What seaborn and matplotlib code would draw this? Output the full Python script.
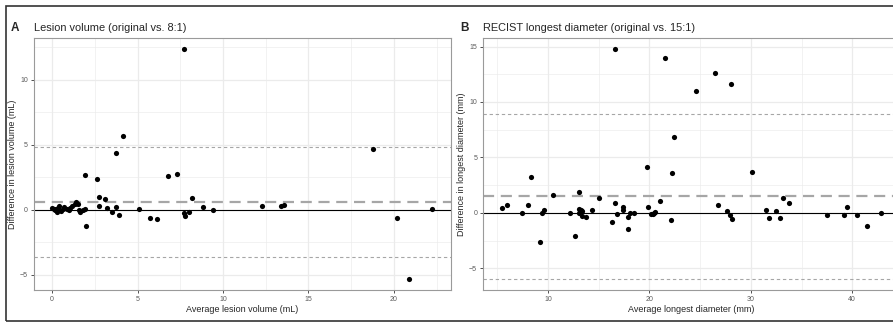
import numpy as np
import pandas as pd
import matplotlib
matplotlib.use('Agg')
import matplotlib.pyplot as plt
from matplotlib.patches import Rectangle
from matplotlib.ticker import MultipleLocator
import seaborn as sns

# ─────────────────────────────────────────────
# DATA
# ─────────────────────────────────────────────

# Panel A: lesion volume, original vs. 8:1
vol_avg = [7.74, 4.14, 3.74, 1.95, 2.65, 6.79, 7.33, 18.77, 2.72, 3.11,
           8.21, 1.38, 1.34, 1.54, 2.74, 3.19, 3.74, 3.48, 3.91, 5.06,
           5.72, 6.11, 7.72, 7.76, 8.02, 8.81, 9.40, 12.26, 13.39, 13.56,
           20.18, 20.88, 22.22, 2.00, 1.95, 1.79, 1.65, 1.56,
           0.10, 0.18, 0.29, 0.37, 0.43, 0.53, 0.62, 0.72, 0.86, 0.99,
           1.07, 1.15, 0.23, 0.02]
vol_diff = [12.35, 5.64, 4.39, 2.70, 2.35, 2.58, 2.76, 4.69, 1.02, 0.87,
            0.94, 0.64, 0.46, 0.48, 0.31, 0.15, 0.20, -0.20, -0.38, 0.03,
            -0.59, -0.74, -0.28, -0.48, -0.13, 0.23, -0.05, 0.26, 0.28, 0.38,
            -0.66, -5.28, 0.10, -1.25, 0.03, -0.05, -0.13, -0.05,
            0.08, -0.03, -0.13, 0.13, 0.28, -0.10, 0.03, 0.18, 0.10, -0.05,
            0.15, 0.26, 0.03, 0.15]
vol_mean, vol_upper, vol_lower = 0.60, 4.82, -3.62

# Panel B: RECIST longest diameter, original vs. 15:1
diam_avg = [5.43, 5.99, 7.43, 8.03, 8.29, 9.18, 9.41, 9.64, 10.46, 12.14,
            12.63, 13.09, 13.03, 13.03, 13.22, 13.36, 13.36, 13.75, 14.34, 15.07,
            16.32, 16.58, 16.64, 16.81, 17.40, 17.40, 17.86, 17.93, 18.09, 18.49,
            19.80, 19.84, 20.16, 20.36, 20.46, 20.59, 21.05, 21.58, 22.14, 22.20,
            22.40, 24.57, 26.48, 26.74, 27.63, 27.93, 28.06, 28.19, 30.13, 31.45,
            31.84, 32.47, 32.89, 33.13, 33.75, 37.53, 39.18, 39.44, 40.43, 41.41,
            42.83]
diam_diff = [0.39, 0.69, 0.00, 0.69, 3.20, -2.60, 0.00, 0.24, 1.56, 0.00,
             -2.07, 1.89, 0.36, 0.00, 0.24, 0.12, -0.30, -0.42, 0.24, 1.29,
             -0.81, 14.76, 0.90, -0.15, 0.48, 0.24, -0.39, -1.50, 0.00, 0.00,
             4.16, 0.51, -0.15, -0.15, -0.03, 0.09, 1.08, 13.95, -0.63, 3.59,
             6.80, 10.96, 12.60, 0.69, 0.18, -0.24, 11.65, -0.57, 3.68, 0.24,
             -0.45, 0.12, -0.45, 1.35, 0.84, -0.21, -0.21, 0.54, -0.18, -1.20,
             -0.03]
diam_mean, diam_upper, diam_lower = 1.50, 8.89, -5.93

# ─────────────────────────────────────────────
# STYLE
# ─────────────────────────────────────────────

sns.set_style('white')
plt.rcParams['font.family'] = ['Liberation Sans', 'DejaVu Sans']

GRID = '#EBEBEB'
BORDER = '#9A9A9A'
TICK_TXT = '#5A5A5A'


def expand(values, frac=0.05):
    lo, hi = min(values), max(values)
    pad = (hi - lo) * frac
    return lo - pad, hi + pad


def bland_altman(ax, avg, diff, mean, upper, lower, title, xlabel, ylabel,
                 xmajor, ymajor):
    df = pd.DataFrame({'avg': avg, 'diff': diff})
    ax.set_axisbelow(True)
    ax.xaxis.set_major_locator(MultipleLocator(xmajor))
    ax.xaxis.set_minor_locator(MultipleLocator(xmajor / 2))
    ax.yaxis.set_major_locator(MultipleLocator(ymajor))
    ax.yaxis.set_minor_locator(MultipleLocator(ymajor / 2))
    ax.grid(which='major', color=GRID, lw=0.9)
    ax.grid(which='minor', color=GRID, lw=0.45)

    ax.axhline(0, color='black', lw=0.8, zorder=1)
    ax.axhline(mean, color='#A6A6A6', lw=1.6, ls=(0, (5, 3)), zorder=1)
    ax.axhline(upper, color='#A6A6A6', lw=0.8, ls=(0, (3, 2.5)), zorder=1)
    ax.axhline(lower, color='#A6A6A6', lw=0.8, ls=(0, (3, 2.5)), zorder=1)

    sns.scatterplot(data=df, x='avg', y='diff', ax=ax, color='black',
                    s=14, linewidth=0, zorder=3)

    ax.set_xlim(*expand(avg))
    ax.set_ylim(*expand(list(diff) + [upper, lower]))

    for sp in ax.spines.values():
        sp.set_color(BORDER)
        sp.set_linewidth(0.8)
    ax.tick_params(which='major', length=2.5, width=0.6, color='#333333',
                   labelsize=5, labelcolor=TICK_TXT, pad=1.5,
                   bottom=True, left=True)
    ax.tick_params(which='minor', length=0)
    ax.set_xlabel(xlabel, fontsize=6.5, labelpad=1.5)
    ax.set_ylabel(ylabel, fontsize=6.5, labelpad=2)
    ax.set_title(title, loc='left', fontsize=7.9, pad=5)


W, H = 893, 323
fig = plt.figure(figsize=(W / 100, H / 100), dpi=100)

ax_a = fig.add_axes([33.5 / W, (H - 290) / H, 417.2 / W, 252.3 / H])
ax_b = fig.add_axes([482.7 / W, (H - 290) / H, 417.2 / W, 252.3 / H])

bland_altman(ax_a, vol_avg, vol_diff, vol_mean, vol_upper, vol_lower,
             'Lesion volume (original vs. 8:1)',
             'Average lesion volume (mL)', 'Difference in lesion volume (mL)',
             5, 5)
bland_altman(ax_b, diam_avg, diam_diff, diam_mean, diam_upper, diam_lower,
             'RECIST longest diameter (original vs. 15:1)',
             'Average longest diameter (mm)', 'Difference in longest diameter (mm)',
             10, 5)

fig.text(11 / W, (H - 31) / H, 'A', fontsize=8.5, fontweight='bold', va='baseline')
fig.text(460 / W, (H - 31) / H, 'B', fontsize=8.5, fontweight='bold', va='baseline')

# outer frame around the figure (cropped on the right)
fig.add_artist(Rectangle((6 / W, 2 / H), 1.0, (H - 8) / H, transform=fig.transFigure,
                         fill=False, edgecolor='#333333', lw=1.2))

fig.savefig('out.png', dpi=100)
